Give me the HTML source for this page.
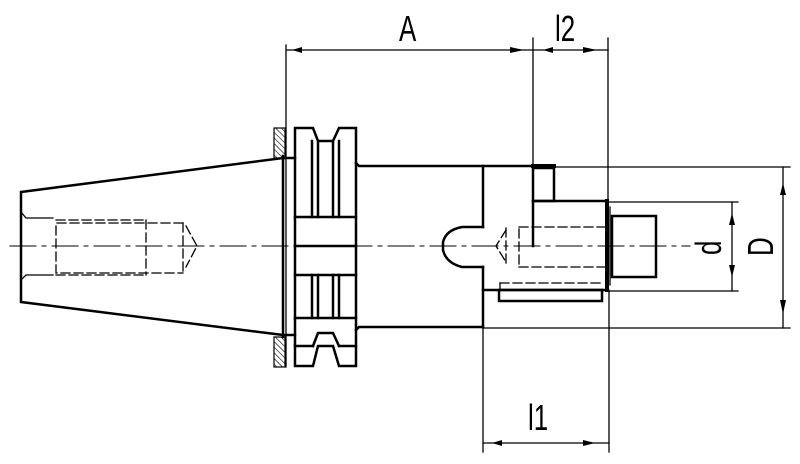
<!DOCTYPE html>
<html><head><meta charset="utf-8"><style>html,body{margin:0;padding:0;background:#fff}svg{display:block}</style></head>
<body>
<svg width="800" height="464" viewBox="0 0 800 464" xmlns="http://www.w3.org/2000/svg">
<defs>
<pattern id="h" width="4" height="4" patternUnits="userSpaceOnUse" patternTransform="rotate(-45)"><line x1="0" y1="0" x2="0" y2="4" stroke="#000" stroke-width="1.2"/></pattern>
</defs>
<g fill="none" stroke="#000" stroke-linecap="square">
<line x1="10" y1="246" x2="690" y2="246" stroke-width="1" stroke-dasharray="26,6,4,6"/>
<g stroke-width="2.5">
<polyline points="283,158 21,192 21,302 283,335"/>
<line x1="283" y1="156" x2="283" y2="337"/>
</g>
<g stroke-width="1.3">
<polyline points="21,212 26,218 53,218"/><polyline points="21,280 26,275 53,275"/>
</g>
<g stroke-width="1.3" stroke-dasharray="9,4">
<polyline points="183,223 56,223 56,273 183,273"/>
<line x1="56" y1="220" x2="146" y2="220"/><line x1="56" y1="275" x2="146" y2="275"/>
<line x1="146" y1="220" x2="146" y2="275"/>
<line x1="183" y1="223" x2="183" y2="273"/>
<polyline points="186,226 197,246 186,267"/>
</g>
<rect x="274" y="128" width="11" height="30" fill="url(#h)" stroke-width="1.2"/>
<rect x="274" y="337" width="11" height="30" fill="url(#h)" stroke-width="1.2"/>
<line x1="286" y1="45" x2="286" y2="367" stroke-width="1.3"/>
<g stroke-width="2.5">
<polyline points="283,158 295,158"/><polyline points="283,335 295,335"/>
<polyline points="295,366 295,128 313,128 318,141 333,141 339,128 356,128 356,366 339,366 333,346 318,346 313,366 295,366"/>
<line x1="295" y1="217" x2="356" y2="217"/>
<line x1="295" y1="246" x2="356" y2="246"/>
<line x1="295" y1="275" x2="356" y2="275"/>
<line x1="295" y1="318" x2="356" y2="318"/>
<line x1="295" y1="346" x2="313" y2="346"/><line x1="339" y1="346" x2="356" y2="346"/>
<polyline points="313,346 318,333 333,333 339,346"/>
<line x1="312" y1="141" x2="312" y2="217"/><line x1="318" y1="141" x2="318" y2="217"/>
<line x1="333" y1="141" x2="333" y2="217"/><line x1="339" y1="141" x2="339" y2="217"/>
<line x1="312" y1="275" x2="312" y2="318"/><line x1="318" y1="275" x2="318" y2="318"/>
<line x1="333" y1="275" x2="333" y2="318"/><line x1="339" y1="275" x2="339" y2="318"/>
<polyline points="356,163 359,166 533,166"/>
<polyline points="356,330 359,327 483,327"/>
<line x1="483" y1="166" x2="483" y2="227"/>
<line x1="483" y1="267" x2="483" y2="327"/>
<path d="M483,227 L462,227 Q446,230 443,242 L443,250 Q446,263 462,267 L483,267"/>
<line x1="483" y1="290" x2="605" y2="290"/>
<rect x="533" y="168" width="21" height="33"/>
<line x1="533" y1="166" x2="554" y2="166" stroke-width="4"/>
<polyline points="533,201 605,201"/>
<line x1="533" y1="201" x2="533" y2="246"/>
<line x1="607" y1="201" x2="607" y2="290" stroke-width="4"/>
<rect x="499" y="290" width="103" height="11"/>
<rect x="612" y="216" width="44" height="61"/>
</g>
<g stroke-width="1.3" stroke-dasharray="9,4">
<line x1="519" y1="227" x2="605" y2="227"/><line x1="519" y1="267" x2="605" y2="267"/>
<line x1="519" y1="229" x2="519" y2="265"/>
<line x1="506" y1="228" x2="506" y2="263"/>
<polyline points="506,230 496,246 506,262"/>
<line x1="500" y1="283" x2="602" y2="283"/>
<line x1="500" y1="283" x2="500" y2="290"/>
</g>
<line x1="610" y1="207" x2="610" y2="285" stroke-width="1.3"/>
<g stroke-width="1.3">
<line x1="483" y1="327" x2="483" y2="452"/>
<line x1="533" y1="38" x2="533" y2="166"/>
<line x1="608" y1="38" x2="608" y2="201"/>
<line x1="609" y1="290" x2="609" y2="452"/>
<line x1="554" y1="167" x2="790" y2="167"/>
<line x1="483" y1="328" x2="790" y2="328"/>
<line x1="608" y1="202" x2="738" y2="202"/>
<line x1="608" y1="291" x2="738" y2="291"/>
<line x1="286" y1="50" x2="533" y2="50"/>
<line x1="533" y1="50" x2="608" y2="50"/>
<line x1="483" y1="443" x2="609" y2="443"/>
<line x1="732" y1="202" x2="732" y2="291"/>
<line x1="783" y1="167" x2="783" y2="328"/>
</g>
</g>
<g fill="#000">
<polygon points="292,50 302,47 302,53"/><polygon points="524,50 510,47 510,53"/>
<polygon points="543,50 553,47 553,53"/><polygon points="597,50 583,47 583,53"/>
<polygon points="492,443 502,440 502,446"/><polygon points="595,443 583,440 583,446"/>
<polygon points="732,213 729,225 735,225"/><polygon points="732,277 729,265 735,265"/>
<polygon points="783,183 780,195 786,195"/><polygon points="783,314 780,300 786,300"/>
</g>
<g font-family="Liberation Sans, sans-serif" font-size="36" fill="#000">
<text x="0" y="0" transform="translate(399,41) scale(0.72,1)">A</text>
<text x="0" y="0" transform="translate(555,41) scale(0.72,1)">l2</text>
<text x="0" y="0" transform="translate(528,430) scale(0.72,1)">l1</text>
<text x="0" y="0" transform="translate(721,255) rotate(-90) scale(0.72,1)">d</text>
<text x="0" y="0" transform="translate(773,256) rotate(-90) scale(0.72,1)">D</text>
</g>
</svg>
</body></html>
